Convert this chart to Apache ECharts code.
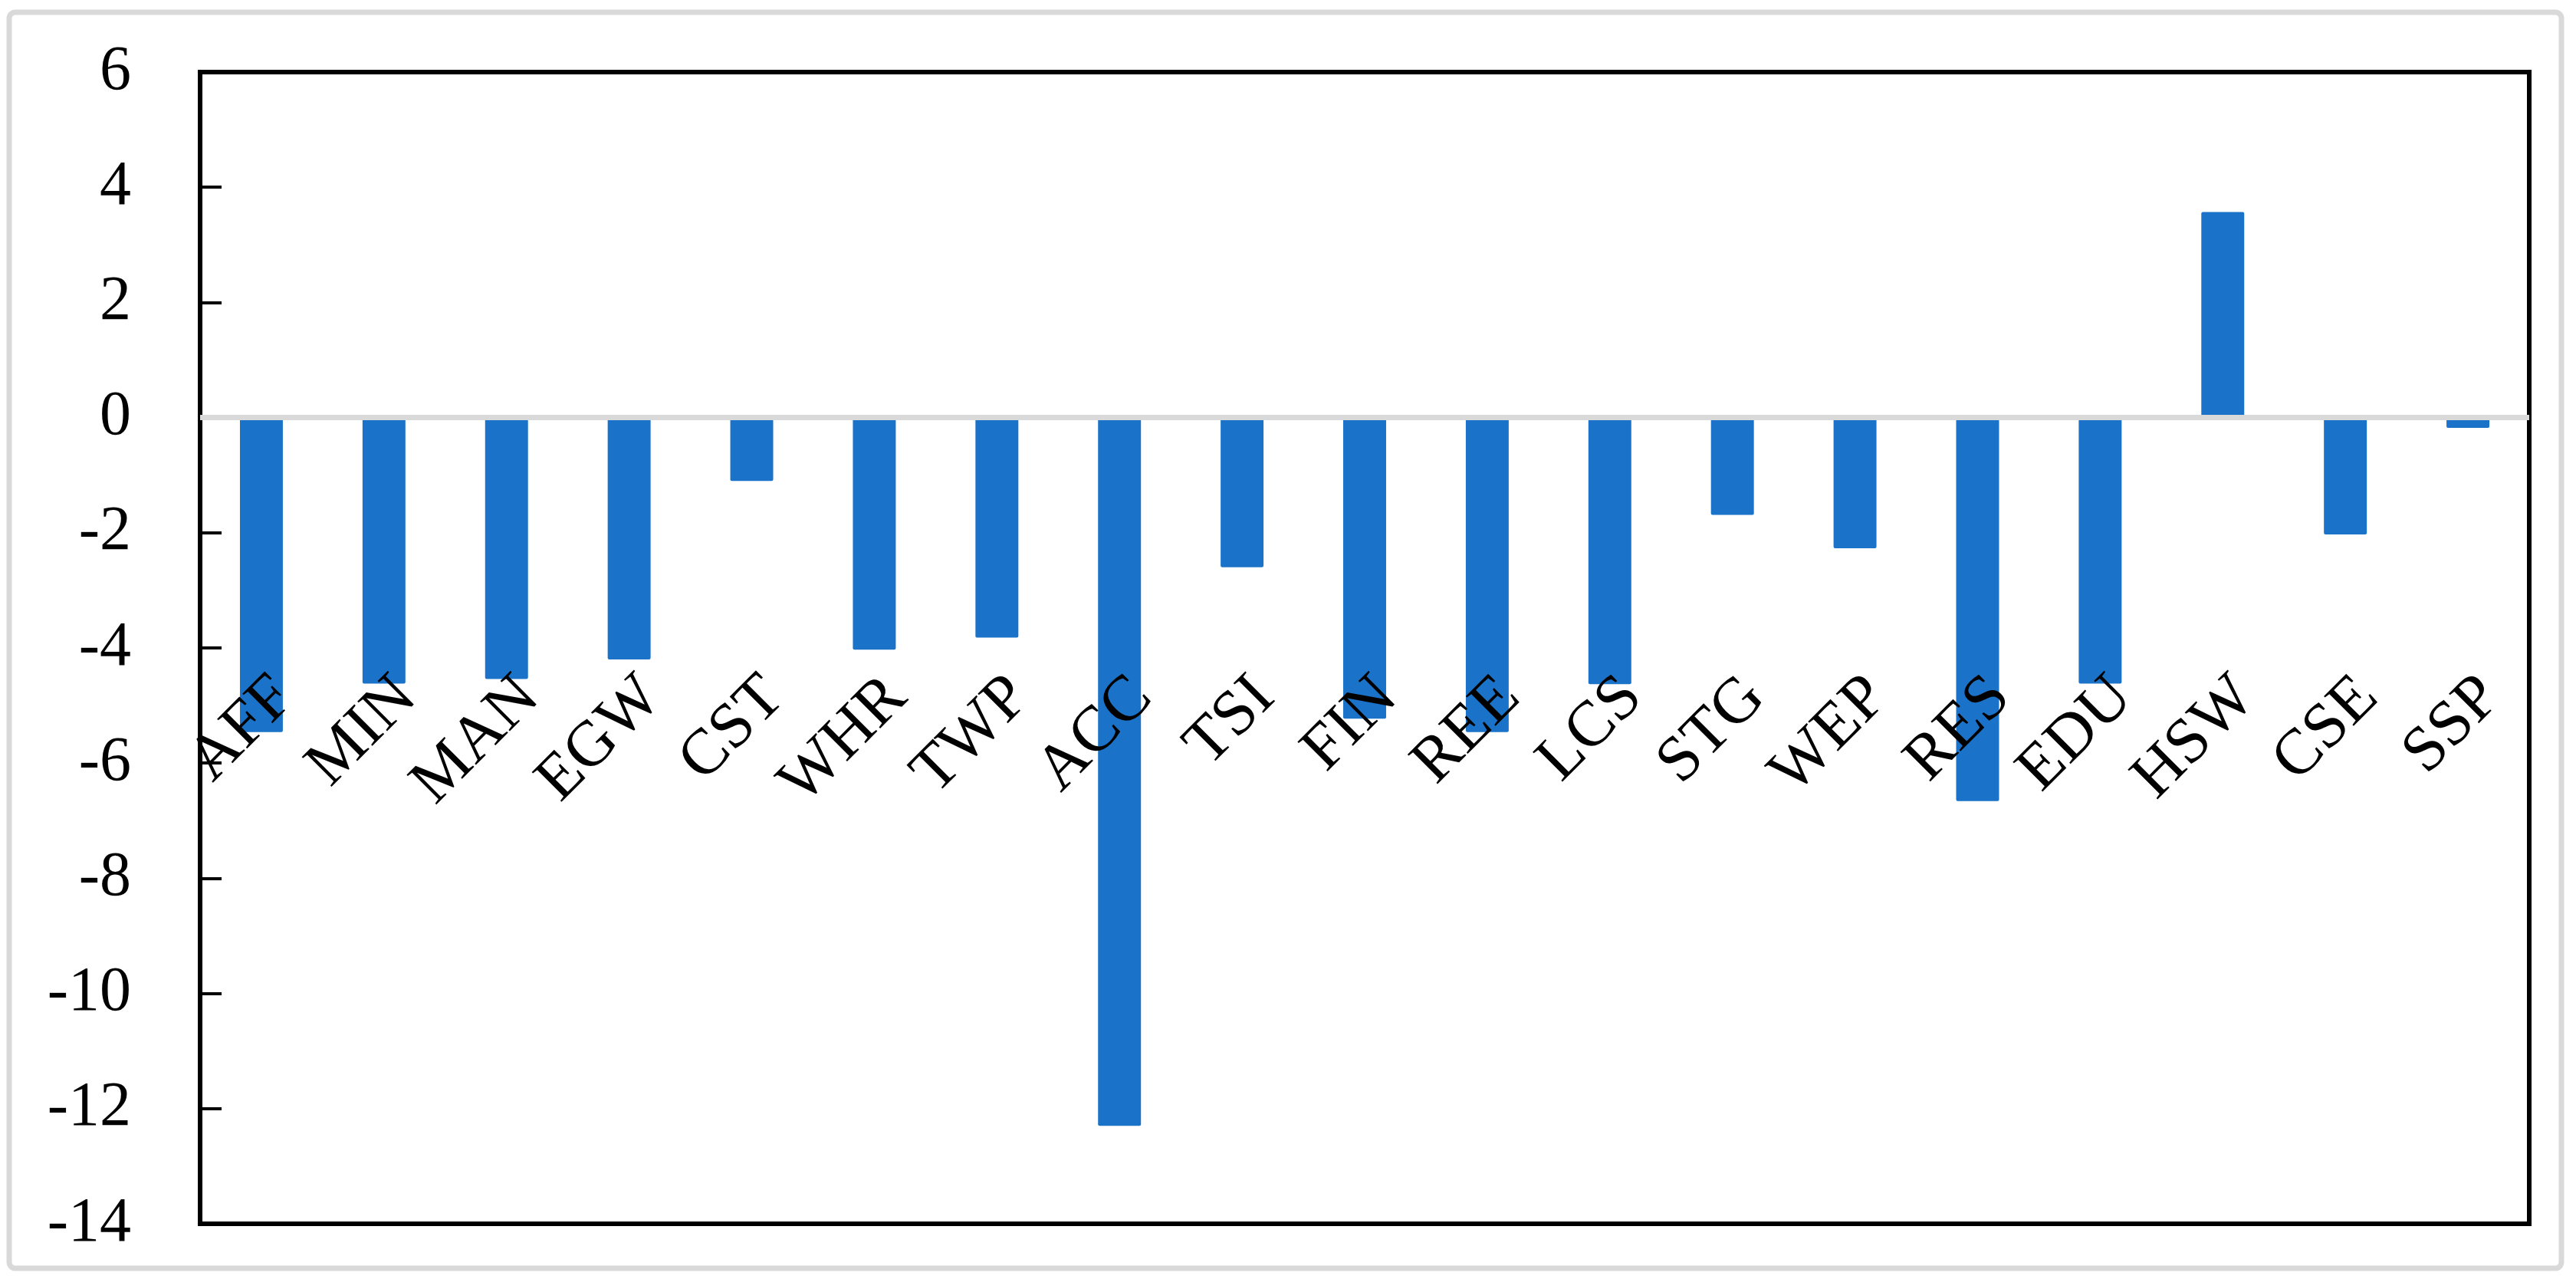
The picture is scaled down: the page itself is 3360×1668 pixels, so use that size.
<!DOCTYPE html>
<html>
<head>
<meta charset="utf-8">
<script src="https://cdn.jsdelivr.net/npm/echarts@6/dist/echarts.min.js"></script>
<style>
  html, body { margin: 0; padding: 0; background: #fff; }
  #chart_bar { width: 3360px; height: 1668px; }
</style>
</head>
<body>
<div id="chart_bar"></div>
<script>
// 各行业数值
var sector_name = ['AFF', 'MIN', 'MAN', 'EGW', 'CST', 'WHR', 'TWP', 'ACC', 'TSI', 'FIN',
                   'REE', 'LCS', 'STG', 'WEP', 'RES', 'EDU', 'HSW', 'CSE', 'SSP'];
var sector_value = [-5.46, -4.62, -4.54, -4.20, -1.10, -4.03, -3.82, -12.30, -2.60, -5.23,
                    -5.46, -4.63, -1.69, -2.27, -6.66, -4.62, 3.57, -2.03, -0.18];
var y_min = -14, y_max = 6, y_step = 2;

var fontSerif = '"Liberation Serif", "Times New Roman", serif';

var myChart = echarts.init(document.getElementById('chart_bar'));
var option = {
    animation: false,
    backgroundColor: '#fff',
    graphic: [{
        type: 'rect',
        shape: { x: 12, y: 16, width: 3329, height: 1638, r: 8 },
        style: { fill: 'none', stroke: '#d9d9d9', lineWidth: 7 },
        silent: true
    }],
    grid: {
        left: 261,
        right: 61,
        top: 94,
        bottom: 72,
        show: true,
        borderWidth: 6,
        borderColor: '#000',
        backgroundColor: 'transparent'
    },
    xAxis: [{
        type: 'category',
        data: sector_name,
        position: 'bottom',
        offset: -737,
        z: 10,
        axisLine: { show: false, onZero: false },
        axisTick: { show: false },
        splitLine: { show: false },
        axisLabel: {
            interval: 0,
            rotate: 45,
            margin: 8,
            verticalAlign: 'top',
            color: '#000',
            fontFamily: fontSerif,
            fontSize: 84
        }
    }],
    yAxis: [{
        type: 'value',
        min: y_min,
        max: y_max,
        interval: y_step,
        axisLine: { show: false },
        axisTick: {
            show: true,
            inside: true,
            length: 28,
            lineStyle: { color: '#000', width: 4 }
        },
        splitLine: { show: false },
        axisLabel: {
            margin: 90,
            color: '#000',
            fontFamily: fontSerif,
            fontSize: 82
        }
    }],
    series: [{
        name: 'value',
        type: 'bar',
        barWidth: '35%',
        itemStyle: { color: '#1a73c8', borderRadius: 2 },
        data: sector_value,
        markLine: {
            silent: true,
            symbol: 'none',
            label: { show: false },
            lineStyle: { color: '#d9d9d9', width: 7, type: 'solid' },
            data: [{ yAxis: 0 }]
        }
    }]
};
myChart.setOption(option);
</script>
</body>
</html>
